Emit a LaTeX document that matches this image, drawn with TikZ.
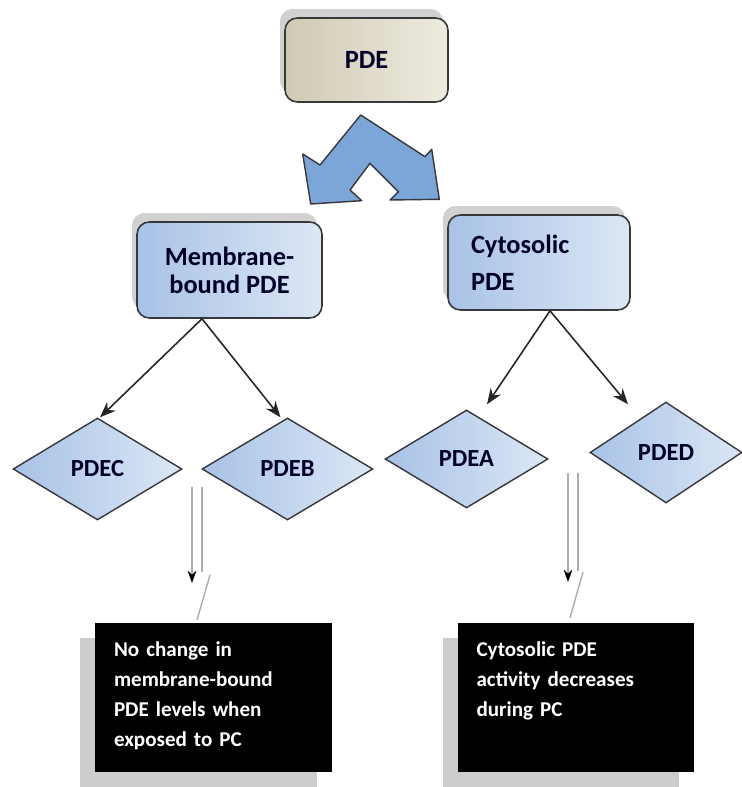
\documentclass[tikz,border=0pt]{standalone}
\usepackage{fontspec}
\setmainfont{Carlito}
\usepackage{xcolor}
\usepackage{tikz}
\usetikzlibrary{shapes.geometric, shadows, arrows.meta}
\definecolor{tanL}{RGB}{208,201,178}
\definecolor{tanR}{RGB}{238,235,224}
\definecolor{blueL}{RGB}{168,194,230}
\definecolor{blueR}{RGB}{220,231,245}
\definecolor{splitblue}{RGB}{124,165,216}
\definecolor{edgegray}{RGB}{55,55,60}
\tikzset{every node/.append style={font=\bfseries}}

\begin{document}
\begin{tikzpicture}[x=0.02cm, y=-0.02cm, >=stealth,
    box/.style={draw=edgegray, line width=0.9pt, rounded corners=7pt, inner sep=0pt,
        font=\fontsize{15}{16}\selectfont\bfseries, text=black!85!blue},
    topshadow/.style={drop shadow={shadow xshift=-0.1cm, shadow yshift=0.18cm, fill=gray!60, opacity=0.6}},
    bluebox/.style={box, topshadow, left color=blueL, right color=blueR},
    rhombus/.style={diamond, draw=edgegray, line width=0.8pt, inner sep=0pt, aspect=1.66,
        left color=blueL, right color=blueR, font=\fontsize{14}{15}\selectfont\bfseries, text=black!85!blue},
    notebox/.style={fill=black, text=white, align=left, text width=3.98cm, inner xsep=0.38cm,
        inner ysep=4pt, text height=15pt, text depth=61.5pt, font=\fontsize{12}{17}\selectfont\bfseries,
        drop shadow={shadow xshift=-0.3cm, shadow yshift=-0.3cm, fill=gray!40, opacity=1}},
    branch/.style={-{Stealth[length=9pt, width=7pt]}, draw=black!85, line width=0.9pt},
    droppipe/.style={draw=gray!65, line width=0.8pt}]
    \useasboundingbox (0,0) rectangle (742,787);

    % top level
    \node[box, topshadow, left color=tanL, right color=tanR, minimum width=3.26cm, minimum height=1.68cm]
        (pde) at (366.5,60) {PDE};

    % split arrow under PDE
    \filldraw[fill=splitblue, draw=edgegray, line width=0.8pt, line join=round]
        (302.7,154) -- (320,165) -- (360.7,115) -- (425,156.7) -- (431.7,149.3) -- (439.3,199.3)
        -- (390,200) -- (398.3,191.7) -- (370,163.3) -- (350,190) -- (361.7,200.7) -- (310.7,204) -- cycle;

    % two kinds of PDE
    \node[bluebox, minimum width=3.7cm, minimum height=1.92cm, align=center]
        (mem) at (229.5,270) {Membrane-\\bound PDE};
    \node[bluebox, minimum width=3.64cm, minimum height=1.9cm, text width=2.72cm, inner xsep=0.46cm, align=left]
        (cyt) at (539,262.5) {Cytosolic\\[5pt]PDE};

    % isoforms
    \node[rhombus, minimum width=3.38cm, minimum height=2.04cm] (pdec) at (97.5,469) {PDEC};
    \node[rhombus, minimum width=3.42cm, minimum height=2.04cm] (pdeb) at (287.5,469) {PDEB};
    \node[rhombus, minimum width=3.26cm, minimum height=1.96cm] (pdea) at (466.5,459) {PDEA};
    \node[rhombus, minimum width=3.04cm, minimum height=2.02cm] (pded) at (666,452.5) {PDED};

    \coordinate (memfork) at ([xshift=-0.55cm]mem.south);
    \coordinate (cytfork) at ([xshift=0.22cm]cyt.south);
    \draw[branch] (memfork) -- ([xshift=0.05cm]pdec.north);
    \draw[branch] (memfork) -- ([xshift=-0.14cm]pdeb.north);
    \draw[branch] (cytfork) -- ([xshift=0.41cm, yshift=0.1cm]pdea.north);
    \draw[branch] (cytfork) -- ([xshift=-0.76cm, yshift=-0.06cm]pded.north);

    % outcomes
    \node[notebox] (leftnote) at (213.5,697.5) {No change in\\membrane-bound\\PDE levels when\\exposed to PC};
    \node[notebox] (rightnote) at (576,697.5) {Cytosolic PDE\\activity decreases\\during PC};

    % hollow drop arrows
    \coordinate (dropL) at (197,487);
    \coordinate (dropR) at (573,473);
    \draw[droppipe, -{Stealth[black, length=7pt, width=5pt]}] ([xshift=-0.1cm]dropL) -- ++(0,96);
    \draw[droppipe] ([xshift=0.1cm]dropL) -- ++(0,85);
    \draw[droppipe] ([xshift=0.26cm, yshift=-1.76cm]dropL) -- ([xshift=-0.33cm, yshift=0.06cm]leftnote.north);
    \draw[droppipe, -{Stealth[black, length=7pt, width=5pt]}] ([xshift=-0.1cm]dropR) -- ++(0,109);
    \draw[droppipe] ([xshift=0.1cm]dropR) -- ++(0,98);
    \draw[droppipe] ([xshift=0.2cm, yshift=-1.98cm]dropR) -- ([xshift=-0.12cm, yshift=0.1cm]rightnote.north);
\end{tikzpicture}
\end{document}
